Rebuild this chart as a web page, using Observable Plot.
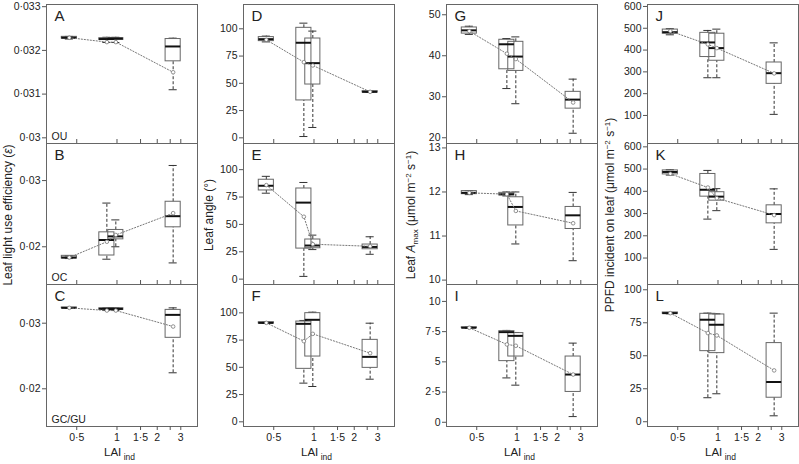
<!DOCTYPE html>
<html><head><meta charset="utf-8">
<script src="https://cdn.jsdelivr.net/npm/d3@7"></script>
<script src="https://cdn.jsdelivr.net/npm/@observablehq/plot@0.6"></script>
<style>
body{margin:0;background:#fff;font-family:"Liberation Sans",Arial,sans-serif;}
#fig{position:relative;width:799px;height:464px;overflow:hidden;background:#fff;}
#fig svg{position:absolute;}
</style></head><body><div id="fig"></div>
<script>
// LAI_ind positions of the four groups (same in every panel)
const lai = [0.44, 0.84, 0.98, 2.63];
// each row: [whisker low, Q1, median, Q3, whisker high, mean]
const statsA = [[0.03226,0.03227,0.03229,0.03231,0.03232,0.03229],[0.03218,0.03224,0.03226,0.03228,0.03230,0.03219],[0.03218,0.03224,0.03227,0.03228,0.03230,0.03219],[0.03110,0.03175,0.03209,0.03226,0.03228,0.03150]];
const statsB = [[0.01822,0.01822,0.01838,0.01863,0.01863,0.01838],[0.01812,0.01868,0.02102,0.02218,0.0266,0.02076],[0.0200,0.02112,0.02157,0.02254,0.02406,0.02178],[0.01756,0.02294,0.02462,0.0268,0.03228,0.02508]];
const statsC = [[0.03229,0.03229,0.03234,0.03239,0.03239,0.03234],[0.03193,0.03203,0.03218,0.03228,0.03233,0.03193],[0.03193,0.03203,0.03218,0.03228,0.03233,0.03193],[0.02244,0.02777,0.03127,0.03203,0.03234,0.02949]];
const statsD = [[88.0,88.7,90.5,92.4,93.3,89.9],[1.2,34.3,87.2,100.9,105.2,69.4],[9.5,48.9,68.5,91.1,97.9,66.4],[41.6,41.6,42.2,42.8,42.8,42.2]];
const statsE = [[78.5,81,85.3,90.8,93.9,85.9],[2.5,27.9,69.9,82.8,88.3,57],[27,28.2,30.7,36.2,40.2,31.9],[22.7,27.3,29.4,31.6,38.7,30]];
const statsF = [[90.2,90.2,90.8,91.4,91.4,90.8],[35.5,48.6,89.9,92,93,74],[32.4,59.9,93.6,99.7,100.6,80.7],[39.1,49.5,59.6,75.2,90.5,63]];
const statsG = [[45.2,45.4,46.2,46.9,47.2,46.0],[32.0,36.7,42.8,43.9,44.2,40.5],[28.3,36.3,39.8,43.4,44.6,39.2],[21.1,27.1,29.3,31.2,34.3,28.6]];
const statsH = [[11.94,11.95,11.98,12.02,12.03,11.98],[11.91,11.92,11.95,11.98,12.0,11.95],[10.82,11.24,11.66,11.88,12.0,11.57],[10.44,11.16,11.47,11.66,11.99,11.29]];
const statsI = [[7.78,7.8,7.82,7.86,7.88,7.82],[3.67,5.06,7.46,7.54,7.6,6.44],[3.07,5.44,7.15,7.38,7.43,6.33],[0.47,2.51,3.95,5.44,6.55,3.95]];
const statsJ = [[470,475,482,494,498,487],[273,368,435,479,490,426],[273,351,409,475,496,409],[105,245,294,343,433,293]];
const statsK = [[473,476,487,494,497,479],[275,376,407,478,494,417],[313,358,376,396,412,369],[139,256,298,337,411,293]];
const statsL = [[81.8,81.8,82.3,82.8,82.8,82.3],[18.2,53.5,77.3,81.8,82.3,67.2],[21.2,52.0,73.5,81.3,81.8,65.4],[4.5,18.2,30.1,59.6,82.3,38.9]];

// tick values
const xTicks = [0.5, 1, 1.5, 2, 2.5, 3];
const yTicksA = [0.03, 0.031, 0.032, 0.033];
const yTicksBC = [0.02, 0.03];
const yTicksDEF = [0, 25, 50, 75, 100];
const yTicksG = [20, 30, 40, 50];
const yTicksH = [10, 11, 12, 13];
const yTicksI = [0, 2.5, 5, 7.5, 10];
const yTicksJK = [100, 200, 300, 400, 500, 600];
const yTicksL = [0, 25, 50, 75, 100];
const rowTags = ["OU", "OC", "GC/GU"];

const panels = [
  {id:"A", stats:statsA, ticks:yTicksA, domain:[0.02987,0.03305], row:0, col:0},
  {id:"B", stats:statsB, ticks:yTicksBC, domain:[0.0143,0.0356], row:1, col:0},
  {id:"C", stats:statsC, ticks:yTicksBC, domain:[0.01425,0.0359], row:2, col:0},
  {id:"D", stats:statsD, ticks:yTicksDEF, domain:[-5.2,122.3], row:0, col:1},
  {id:"E", stats:statsE, ticks:yTicksDEF, domain:[-4.9,123.9], row:1, col:1},
  {id:"F", stats:statsF, ticks:yTicksDEF, domain:[-4.3,126], row:2, col:1},
  {id:"G", stats:statsG, ticks:yTicksG, domain:[18.6,52.5], row:0, col:2},
  {id:"H", stats:statsH, ticks:yTicksH, domain:[9.9,13.1], row:1, col:2},
  {id:"I", stats:statsI, ticks:yTicksI, domain:[-0.35,11.4], row:2, col:2},
  {id:"J", stats:statsJ, ticks:yTicksJK, domain:[-28.6,609], row:0, col:3},
  {id:"K", stats:statsK, ticks:yTicksJK, domain:[-19,615], row:1, col:3},
  {id:"L", stats:statsL, ticks:yTicksL, domain:[-3.6,104], row:2, col:3}
];

const fmt = v => String(+(+v).toFixed(4)).replace(".", "\u00b7");
const fig = document.getElementById("fig");
const colLeft = [46, 243, 446, 647];
const rowTop = [4, 143, 284];
const rowH = [139, 141, 142];
const frameW = 151;
const mL = 46, mR = 4, mT = 4, mB = 40;
const boxF = 1.139, capF = 1.072;
const FONT = "'Liberation Sans', Arial, sans-serif";

panels.forEach(p => {
  const data = lai.map((x, i) => { const s = p.stats[i]; return {x, lo:s[0], q1:s[1], med:s[2], q3:s[3], hi:s[4], mean:s[5]}; });
  const bottom = p.row === 2;
  const marks = [
    Plot.ruleX(data, {x:"x", y1:"lo", y2:"q1", stroke:"#333", strokeDasharray:"3,2"}),
    Plot.ruleX(data, {x:"x", y1:"q3", y2:"hi", stroke:"#333", strokeDasharray:"3,2"}),
    Plot.ruleY(data, {y:"lo", x1:d=>d.x/capF, x2:d=>d.x*capF, stroke:"#333"}),
    Plot.ruleY(data, {y:"hi", x1:d=>d.x/capF, x2:d=>d.x*capF, stroke:"#333"}),
    Plot.rect(data, {x1:d=>d.x/boxF, x2:d=>d.x*boxF, y1:"q1", y2:"q3", fill:"none", stroke:"#666"}),
    Plot.ruleY(data, {y:"med", x1:d=>d.x/boxF, x2:d=>d.x*boxF, stroke:"#111", strokeWidth:2}),
    Plot.line(data, {x:"x", y:"mean", stroke:"#777", strokeWidth:1, strokeDasharray:"1.2,1.8"}),
    Plot.dot(data, {x:"x", y:"mean", r:1.8, stroke:"#777", strokeWidth:0.8, fill:"white"}),
    Plot.frame({stroke:"#666"}),
    Plot.axisY({ticks:p.ticks, tickFormat:fmt, tickSize:4, tickPadding:2, label:null, stroke:"#555", fill:"#222"}),
    bottom
      ? Plot.axisX({ticks:xTicks, tickFormat:d => d === 2.5 ? "" : fmt(d), tickSize:4, tickPadding:3, label:null, stroke:"#555", fill:"#222"})
      : Plot.axisX({ticks:xTicks, tickFormat:() => "", tickSize:4, dy:-4, label:null, stroke:"#555"}),
    Plot.text([p.id], {frameAnchor:"top-left", dx:8, dy:6, fontSize:15, fill:"#222"})
  ];
  if (p.col === 0) marks.push(Plot.text([rowTags[p.row]], {frameAnchor:"bottom-left", dx:5, dy:-4, fontSize:10.5, fill:"#222"}));
  const svg = Plot.plot({
    width: mL + frameW + mR, height: mT + rowH[p.row] + mB,
    marginLeft: mL, marginRight: mR, marginTop: mT, marginBottom: mB,
    style: {background:"transparent", overflow:"visible", fontFamily:FONT, fontSize:"10.5px"},
    x: {type:"log", domain:[0.297, 4.0]},
    y: {domain:p.domain},
    marks
  });
  svg.style.left = (colLeft[p.col] - mL) + "px";
  svg.style.top = (rowTop[p.row] - mT) + "px";
  fig.appendChild(svg);
});

// overlay: axis titles
const ov = d3.select(fig).append("svg").attr("width", 799).attr("height", 464)
  .style("left", "0px").style("top", "0px").style("pointer-events", "none")
  .attr("font-family", FONT).attr("fill", "#222");

function vtitle(x, parts) {
  const t = ov.append("text").attr("transform", `translate(${x},215) rotate(-90)`)
    .attr("text-anchor", "middle").attr("font-size", 12);
  parts.forEach(([s, o]) => {
    const ts = t.append("tspan").text(s);
    if (o) Object.entries(o).forEach(([k, v]) => ts.attr(k, v));
  });
}
vtitle(12, [["Leaf light use efficiency ("], ["\u03b5", {"font-style":"italic"}], [")"]]);
vtitle(213, [["Leaf angle (\u00b0)"]]);
vtitle(415, [["Leaf "], ["A", {"font-style":"italic"}], ["max", {"font-size":8, dy:3}], [" (\u03bcmol m", {dy:-3}], ["\u22122", {"font-size":8, dy:-4}], [" s", {dy:4}], ["\u22121", {"font-size":8, dy:-4}], [")", {dy:4}]]);
vtitle(614, [["PPFD incident on leaf (\u03bcmol m"], ["\u22122", {"font-size":8, dy:-4}], [" s", {dy:4}], ["\u22121", {"font-size":8, dy:-4}], [")", {dy:4}]]);

colLeft.forEach(cx => {
  const t = ov.append("text").attr("x", cx + frameW / 2 - 2).attr("y", 456).attr("text-anchor", "middle").attr("font-size", 11.5);
  t.append("tspan").text("LAI");
  t.append("tspan").text(" ind").attr("font-size", 8.5).attr("dy", 4);
});
</script></body></html>
